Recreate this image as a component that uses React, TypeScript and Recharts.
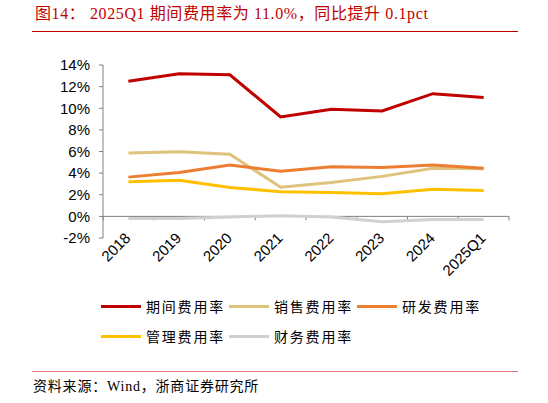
import React from 'react';
import { LineChart, Line, XAxis, YAxis, ReferenceLine } from 'recharts';

const years = ['2018', '2019', '2020', '2021', '2022', '2023', '2024', '2025Q1'];
const periodRate = [12.5, 13.2, 13.1, 9.2, 9.9, 9.75, 11.35, 11.0];
const salesRate = [5.85, 5.97, 5.75, 2.7, 3.14, 3.7, 4.46, 4.4];
const rdRate = [3.63, 4.06, 4.74, 4.18, 4.58, 4.52, 4.74, 4.46];
const adminRate = [3.2, 3.35, 2.68, 2.28, 2.2, 2.1, 2.5, 2.4];
const financeRate = [-0.2, -0.2, -0.05, 0.05, -0.05, -0.5, -0.3, -0.3];
const yTicks = [-2, 0, 2, 4, 6, 8, 10, 12, 14];

const SERIES = [
  { key: 'period', name: '期间费用率', values: periodRate, color: '#C00000' },
  { key: 'sales', name: '销售费用率', values: salesRate, color: '#DFC27C' },
  { key: 'rd', name: '研发费用率', values: rdRate, color: '#ED7D31' },
  { key: 'admin', name: '管理费用率', values: adminRate, color: '#FFC000' },
  { key: 'finance', name: '财务费用率', values: financeRate, color: '#D0D0D0' },
];

const SERIF = "'Liberation Serif', 'Noto Sans CJK SC', serif";
const SANS = "'Liberation Sans', Arial, sans-serif";
const AXIS = '#808080';

const chartData = years.map((year, i) => {
  const row: Record<string, string | number> = { year };
  SERIES.forEach((s) => {
    row[s.key] = s.values[i];
  });
  return row;
});

// rotated category labels, anchored at the end like Excel does
const XTick = (props: any) => {
  const { x, y, payload } = props;
  const ax = x + 3;
  const ay = y + 1;
  return (
    <text
      x={ax}
      y={ay}
      textAnchor="end"
      fontSize={15}
      fontFamily={SANS}
      fill="#000"
      transform={`rotate(-45 ${ax} ${ay})`}
    >
      {payload.value}
    </text>
  );
};

// zero line acts as the category axis, with ticks between categories
const ZeroAxis = (props: any) => {
  const { x1, x2, y1 } = props;
  const n = years.length;
  const step = (x2 - x1) / n;
  return (
    <g>
      <line x1={x1} x2={x2} y1={y1} y2={y1} stroke={AXIS} strokeWidth={1} />
      {Array.from({ length: n + 1 }, (_, i) => (
        <line key={i} x1={x1 + i * step} x2={x1 + i * step} y1={y1} y2={y1 + 4} stroke={AXIS} strokeWidth={1} />
      ))}
    </g>
  );
};

export default function App() {
  const rows = [SERIES.slice(0, 3), SERIES.slice(3)];
  return (
    <div style={{ position: 'relative', width: 548, height: 403, background: '#fff', overflow: 'hidden' }}>
      <style>{'body{margin:0}'}</style>
      <div
        style={{
          position: 'absolute',
          left: 35,
          top: 4,
          fontFamily: SERIF,
          fontSize: 16,
          letterSpacing: 0.6,
          color: '#C00000',
          whiteSpace: 'nowrap',
          lineHeight: '20px',
        }}
      >
        图14： 2025Q1 期间费用率为 11.0%，同比提升 0.1pct
      </div>
      <div style={{ position: 'absolute', left: 32, top: 31, width: 486, height: 1, background: '#C00000' }} />

      <div style={{ position: 'absolute', left: 0, top: 0 }}>
        <LineChart width={548} height={290} data={chartData} margin={{ top: 65, right: 39, left: 0, bottom: 12 }}>
          <XAxis
            dataKey="year"
            scale="band"
            interval={0}
            axisLine={false}
            tickLine={false}
            tickSize={0}
            tickMargin={0}
            height={40}
            tick={<XTick />}
          />
          <YAxis
            domain={[-2, 14]}
            ticks={yTicks}
            interval={0}
            width={103}
            tickSize={4}
            tickMargin={9}
            axisLine={{ stroke: AXIS }}
            tickLine={{ stroke: AXIS }}
            tickFormatter={(v: number) => `${v}%`}
            tick={{ fill: '#000', fontSize: 15, fontFamily: SANS }}
          />
          <ReferenceLine y={0} shape={<ZeroAxis />} />
          {SERIES.map((s) => (
            <Line
              key={s.key}
              type="linear"
              dataKey={s.key}
              name={s.name}
              stroke={s.color}
              strokeWidth={3}
              dot={false}
              activeDot={false}
              isAnimationActive={false}
            />
          ))}
        </LineChart>
      </div>

      {rows.map((row, r) => (
        <div key={r} style={{ position: 'absolute', left: 101, top: 296 + r * 30, display: 'flex' }}>
          {row.map((s) => (
            <div key={s.key} style={{ display: 'flex', alignItems: 'center', width: 128, height: 20 }}>
              <div style={{ width: 40, height: 3, background: s.color }} />
              <span
                style={{
                  marginLeft: 5,
                  fontFamily: SERIF,
                  fontSize: 14,
                  letterSpacing: 1.8,
                  color: '#000',
                  whiteSpace: 'nowrap',
                }}
              >
                {s.name}
              </span>
            </div>
          ))}
        </div>
      ))}

      <div style={{ position: 'absolute', left: 32, top: 371, width: 486, height: 1, background: '#E07A7A' }} />
      <div
        style={{
          position: 'absolute',
          left: 33,
          top: 378,
          fontFamily: SERIF,
          fontSize: 14,
          letterSpacing: 0.8,
          color: '#000',
          whiteSpace: 'nowrap',
          lineHeight: '18px',
        }}
      >
        资料来源：Wind，浙商证券研究所
      </div>
    </div>
  );
}
